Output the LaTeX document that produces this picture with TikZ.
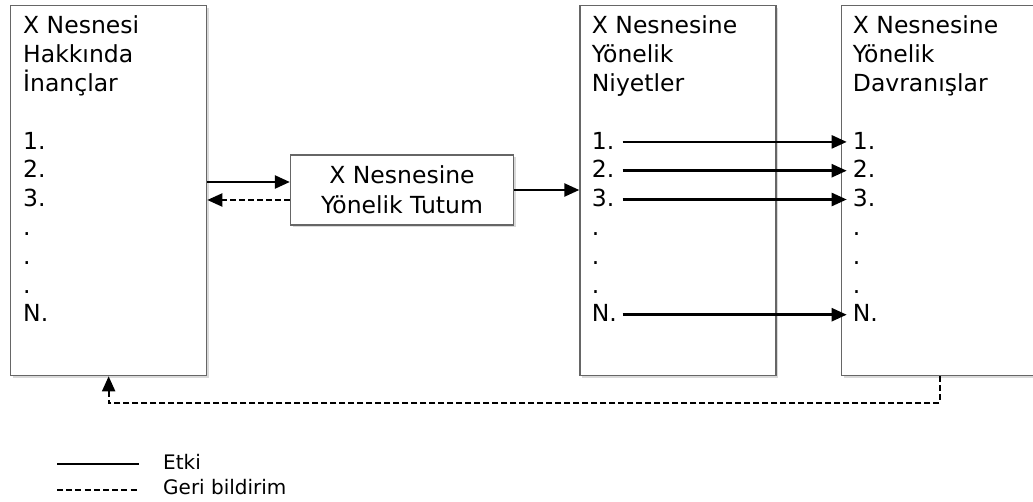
\documentclass[tikz,border=0pt]{standalone}
\usepackage{fontspec}
\setmainfont{DejaVu Sans}
\usetikzlibrary{arrows.meta,shadows,calc}
\begin{document}
\begin{tikzpicture}[x=1pt,y=-1pt,
 box/.style={draw=black!60, line width=1.3pt, fill=white, inner sep=0pt,
   drop shadow={opacity=0.3,shadow xshift=2.5pt,shadow yshift=-2.5pt}},
 item/.style={anchor=base west, inner sep=0pt, font=\fontsize{23.5}{28}\selectfont},
 legtext/.style={anchor=base west, inner sep=0pt, font=\fontsize{20}{24}\selectfont},
 eff/.style={line width=2.4pt, -{Triangle[length=15pt,width=13pt]}},
 fb/.style={line width=2pt, dash pattern=on 6pt off 3pt, -{Triangle[length=15pt,width=13pt]}},
]
\clip (0,0) rectangle (1033,502);
\useasboundingbox (0,0) rectangle (1033,502);
% boxes
\node[box, minimum width=196pt, minimum height=370pt, anchor=north west] (A) at (10,5) {};
\node[box, minimum width=196pt, minimum height=370pt, anchor=north west] (B) at (579.3,5) {};
\node[box, minimum width=220pt, minimum height=370pt, anchor=north west] (D) at (840.7,5) {};
\node[box, minimum width=223pt, minimum height=70pt, align=center,
      font=\fontsize{23.5}{30}\selectfont] (T) at (402,190) {X Nesnesine\\Yönelik Tutum};
% titles
\foreach \t [count=\i] in {X Nesnesi,Hakkında,İnançlar}
  \node[item] (At\i) at (23,{34+28.8*(\i-1)}) {\t};
\foreach \t [count=\i] in {X Nesnesine,Yönelik,Niyetler}
  \node[item] (Bt\i) at (591.7,{34+28.8*(\i-1)}) {\t};
\foreach \t [count=\i] in {X Nesnesine,Yönelik,Davranışlar}
  \node[item] (Dt\i) at (852.7,{34+28.8*(\i-1)}) {\t};
% items
\foreach \n/\t/\l in {1/1./5,2/2./6,3/3./7,4/./8,5/./9,6/./10,N/N./11}{
  \node[item] (A\n) at (23,{34+28.8*(\l-1)}) {\t};
  \node[item] (B\n) at (591.7,{34+28.8*(\l-1)}) {\t};
  \node[item] (D\n) at (852.7,{34+28.8*(\l-1)}) {\t};
}
% arrows between intentions and behaviours
\foreach \n in {1,2,3,N}
  \draw[eff] ([xshift=31pt,yshift=7.3pt]B\n.base west) -- ([xshift=-6pt,yshift=7.3pt]D\n.base west);
% beliefs <-> attitude
\coordinate (t1) at ([yshift=8pt]T.west);
\coordinate (t2) at ([yshift=-10pt]T.west);
\draw[eff] (t1 -| A.east) -- (t1);
\draw[fb] (t2) -- (t2 -| A.east);
\draw[eff] (T.east) -- (T.east -| B.west);
% feedback
\draw[fb] ([xshift=-11.7pt]D.south) -- ++(0,26.7) -| (A.south);
% legend
\coordinate (l1) at (57,464); \coordinate (l2) at (139,464);
\coordinate (l3) at (57,490); \coordinate (l4) at (139,490);
\draw[line width=2.6pt] (l1) -- (l2);
\draw[line width=1.6pt, dash pattern=on 6pt off 3.2pt] (l3) -- (l4);
\node[legtext] (etki) at (163,469) {Etki};
\node[legtext] (geri) at (163,494) {Geri bildirim};
\end{tikzpicture}
\end{document}
